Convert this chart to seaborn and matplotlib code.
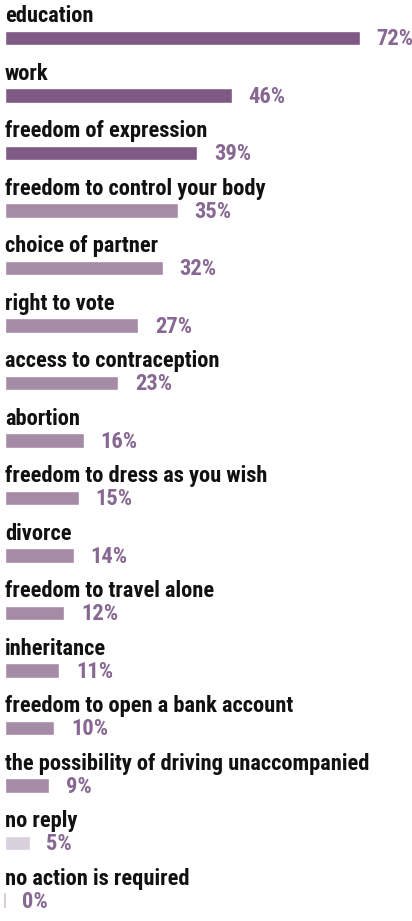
import matplotlib
matplotlib.use("Agg")
import matplotlib.pyplot as plt
import seaborn as sns
import pandas as pd
from matplotlib import font_manager
from matplotlib.font_manager import FontProperties

categories = [
    "education", "work", "freedom of expression", "freedom to control your body",
    "choice of partner", "right to vote", "access to contraception", "abortion",
    "freedom to dress as you wish", "divorce", "freedom to travel alone",
    "inheritance", "freedom to open a bank account",
    "the possibility of driving unaccompanied", "no reply", "no action is required",
]
values = [72, 46, 39, 35, 32, 27, 23, 16, 15, 14, 12, 11, 10, 9, 5, 0]
groups = ["top"] * 3 + ["mid"] * 11 + ["none"] * 2
value_labels = [f"{v}%" for v in values]

palette = {"top": "#7e5a85", "mid": "#a68ba7", "none": "#d9d0dd"}

sns.set_theme(style="white")
plt.rcParams["font.family"] = ["DejaVu Sans"]

# pick a bold condensed face if one is installed
cands = []
for f in font_manager.fontManager.ttflist:
    w = f.weight if isinstance(f.weight, int) else 400
    narrow = (str(f.stretch) in ("condensed", "semi-condensed", "extra-condensed", "ultra-condensed")
              or "ondensed" in f.name or "arrow" in f.name or "ondensed" in f.fname or "arrow" in f.fname)
    if narrow and w >= 600 and f.style == "normal":
        score = 0
        if "Roboto" in f.fname: score = 5
        elif "Liberation" in f.fname: score = 4
        elif "Noto" in f.fname: score = 3
        elif "OpenSans" in f.fname or "Open" in f.fname: score = 2
        elif "DejaVu" in f.fname: score = 1
        cands.append((score, f.fname))
if cands:
    cands.sort(reverse=True)
    fp_base = FontProperties(fname=cands[0][1])
else:
    fp_base = FontProperties(family="DejaVu Sans", weight="bold", stretch="condensed")

df = pd.DataFrame({"category": categories, "value": values, "group": groups})

W, H = 412, 921
fig = plt.figure(figsize=(W / 100, H / 100), dpi=100)
ax = fig.add_axes([0, 0, 1, 1])

sns.barplot(data=df, x="value", y="category", hue="group", palette=palette,
            order=categories, dodge=False, legend=False, width=0.26,
            saturation=1, ax=ax)

for p in ax.patches:
    if p.get_width() == 0:
        p.set_edgecolor(palette["none"])
        p.set_linewidth(1.5)

px_per_unit = 4.93
x0 = 5
ax.set_xlim(-x0 / px_per_unit, (W - x0) / px_per_unit)
row = 57.5
first = 38
ax.set_ylim((H - first) / row, -first / row)
ax.axis("off")

# size the text so the longest label is about as wide as in the reference
fp = fp_base.copy()
fp.set_size(16)
probe = fig.text(0, 0, categories[13], fontproperties=fp)
fig.canvas.draw()
wpx = probe.get_window_extent().width
probe.remove()
size = min(16 * 365 / wpx, 17.5)
fp.set_size(size)

for i, (c, v, lab) in enumerate(zip(categories, values, value_labels)):
    ax.text(0, i - 0.27, c, fontproperties=fp, color="#111111",
            va="baseline", ha="left")
    ax.annotate(lab, xy=(v, i), xytext=(12, -1), textcoords="offset points",
                fontproperties=fp, color="#876892",
                va="center", ha="left")

fig.savefig("out.png", dpi=100)
